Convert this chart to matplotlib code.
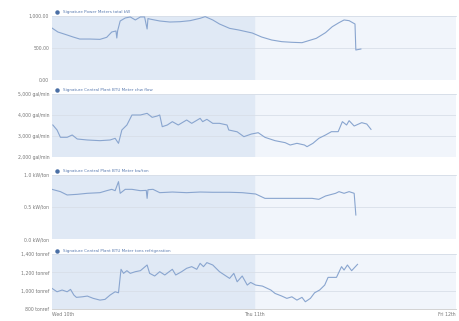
import matplotlib.pyplot as plt

# hours since Wed 10th 00:00
kw_hours = [0, 0.7, 1.8, 2.5, 3.3, 4.5, 5.7, 6.5, 7.1, 7.6, 7.7, 7.8, 8.1, 8.7, 9.3, 9.9, 10.5,
            11.0, 11.3, 11.4, 11.6, 12.8, 14.0, 15.2, 16.4, 17.6, 18.2, 19.1, 19.9, 21.1,
            22.2, 23.8, 24.9, 26.1, 27.3, 28.5, 29.7, 30.5, 31.4, 32.5, 33.3, 34.1, 34.7,
            35.3, 36.0, 36.1, 36.7]
kw_values = [812, 750, 703, 672, 640, 640, 635, 667, 750, 766, 656, 770, 922, 969, 985, 938, 985,
             985, 797, 960, 953, 922, 906, 911, 927, 964, 990, 938, 875, 807,
             781, 734, 672, 625, 599, 589, 583, 615, 651, 740, 833, 896, 938,
             927, 875, 469, 484]

flow_hours = [0.1, 0.6, 1.0, 1.8, 2.4, 3.0, 4.2, 5.7, 6.9, 7.5, 7.9, 8.3, 8.9, 9.5, 10.5, 11.3,
              11.9, 12.5, 12.8, 13.1, 13.7, 14.3, 15.0, 16.0, 16.6, 17.6, 17.9, 18.4, 19.1,
              19.9, 20.8, 21.0, 22.0, 22.8, 23.7, 24.5, 25.3, 26.5, 27.7, 28.3, 29.1, 30.0,
              30.3, 31.0, 31.7, 32.5, 33.2, 34.0, 34.5, 35.0, 35.3, 35.9, 36.8, 37.4, 37.9]
flow_values = [3524, 3286, 2938, 2938, 3048, 2857, 2810, 2778, 2810, 2889, 2651, 3286, 3524, 4000,
               4000, 4079, 3889, 3952, 4000, 3444, 3524, 3683, 3524, 3762, 3603, 3841, 3683,
               3794, 3603, 3603, 3524, 3286, 3200, 2968, 3095, 3157, 2937, 2778, 2683, 2571,
               2651, 2571, 2492, 2651, 2889, 3048, 3206, 3206, 3683, 3524, 3730, 3476, 3635,
               3570, 3317]

eff_hours = [0, 1.0, 1.8, 3.0, 4.2, 5.7, 6.5, 7.1, 7.5, 7.9, 8.1, 8.7, 9.5, 10.5, 11.2, 11.3,
             11.4, 12.0, 12.8, 14.3, 16.0, 17.6, 19.1, 21.1, 22.6, 24.2, 25.3, 26.9, 28.9,
             30.9, 31.7, 32.5, 33.7, 34.1, 34.7, 35.3, 35.9, 36.1]
eff_values = [0.776, 0.74, 0.688, 0.698, 0.714, 0.724, 0.755, 0.776, 0.755, 0.896, 0.714, 0.776,
              0.776, 0.755, 0.76, 0.635, 0.77, 0.776, 0.724, 0.734, 0.724, 0.734, 0.73, 0.73,
              0.724, 0.703, 0.635, 0.635, 0.635, 0.635, 0.62, 0.672, 0.714, 0.74, 0.714,
              0.74, 0.714, 0.375]

ton_hours = [0, 0.6, 1.2, 1.8, 2.2, 2.6, 2.9, 3.6, 4.2, 4.9, 5.7, 6.3, 6.9, 7.5, 7.9, 8.2, 8.5,
             8.9, 9.3, 9.9, 10.5, 11.3, 11.6, 12.2, 12.8, 13.4, 14.3, 14.7, 15.4, 16.0, 16.6,
             17.2, 17.6, 18.0, 18.4, 19.1, 19.9, 21.1, 21.6, 22.0, 22.6, 23.2, 23.6, 24.2,
             25.0, 26.0, 26.5, 27.3, 27.9, 28.5, 29.1, 29.7, 30.1, 30.7, 31.2, 31.8, 32.4,
             32.8, 33.8, 34.4, 34.7, 35.1, 35.6, 36.3]
ton_values = [1025, 988, 1007, 988, 1014, 952, 927, 933, 941, 916, 897, 905, 952, 988, 977, 1233,
              1189, 1218, 1189, 1207, 1218, 1280, 1189, 1160, 1207, 1171, 1233, 1171, 1207,
              1244, 1262, 1233, 1298, 1262, 1306, 1280, 1207, 1134, 1189, 1097, 1160, 1061,
              1090, 1061, 1050, 1007, 970, 941, 916, 933, 897, 927, 879, 916, 977, 1007, 1061,
              1145, 1145, 1262, 1225, 1280, 1218, 1287]

series = [
    ("Signature Power Meters total kW", kw_hours, kw_values,
     [0, 500, 1000], ["0.00", "500.00", "1,000.00"]),
    ("Signature Central Plant BTU Meter chw flow", flow_hours, flow_values,
     [2000, 3000, 4000, 5000], ["2,000 gal/min", "3,000 gal/min", "4,000 gal/min", "5,000 gal/min"]),
    ("Signature Central Plant BTU Meter kw/ton", eff_hours, eff_values,
     [0, 0.5, 1.0], ["0.0 kW/ton", "0.5 kW/ton", "1.0 kW/ton"]),
    ("Signature Central Plant BTU Meter tons refrigeration", ton_hours, ton_values,
     [800, 1000, 1200, 1400], ["800 tonref", "1,000 tonref", "1,200 tonref", "1,400 tonref"]),
]
day_ticks = [0, 24, 48]
day_labels = ["Wed 10th", "Thu 11th", "Fri 12th"]

# axes boxes in pixels: (top, bottom)
boxes = [(16, 80), (94, 157), (175, 239), (254, 309)]
W, H = 459, 321

fig = plt.figure(figsize=(W / 100, H / 100), dpi=100)
line_col = "#89a5cf"
for i, (name, hrs, vals, ticks, labels) in enumerate(series):
    top, bot = boxes[i]
    ax = fig.add_axes([52 / W, 1 - bot / H, 404 / W, (bot - top) / H])
    ax.set_facecolor("#f1f5fb")
    ax.axvspan(0, 24, color="#e0e9f5", zorder=0)
    ax.plot(hrs, vals, color=line_col, lw=0.8, zorder=3)
    ax.set_xlim(0, 48)
    ax.set_ylim(ticks[0], ticks[-1])
    ax.set_yticks(ticks)
    ax.set_yticklabels(labels)
    ax.grid(axis="y", color="#d8dfe9", lw=0.6)
    ax.tick_params(axis="both", length=0, labelsize=3.3, labelcolor="#777777", pad=2)
    for s in ["left", "right", "bottom"]:
        ax.spines[s].set_visible(False)
    ax.spines["top"].set_color("#d8dfe9")
    ax.spines["top"].set_linewidth(0.6)
    ax.set_xticks(day_ticks)
    if i == len(series) - 1:
        ax.set_xticklabels(day_labels)
        xl = ax.get_xticklabels()
        xl[0].set_horizontalalignment("left")
        xl[-1].set_horizontalalignment("right")
        ax.spines["bottom"].set_visible(True)
        ax.spines["bottom"].set_color("#cccccc")
        ax.spines["bottom"].set_linewidth(0.6)
    else:
        ax.set_xticklabels([])
    ax.plot([0.012], [1.06], "o", color="#4a6fa5", ms=2.2, transform=ax.transAxes, clip_on=False)
    ax.text(0.026, 1.06, name, transform=ax.transAxes, fontsize=3.0, color="#5a7bb0",
            va="center", ha="left")

fig.savefig("out.png", dpi=100)
